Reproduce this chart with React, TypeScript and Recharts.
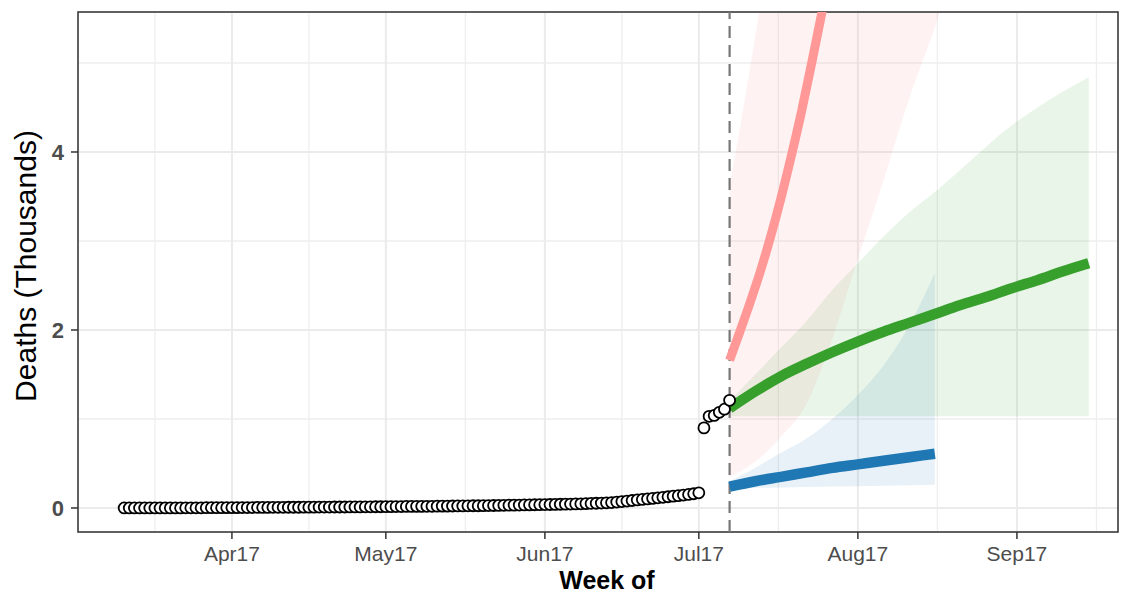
import {
  ComposedChart,
  Line,
  Area,
  Scatter,
  XAxis,
  YAxis,
  CartesianGrid,
  ReferenceLine,
  ReferenceArea,
} from "recharts";

// days counted from Apr 17
const obsDays = [
  -21, -20, -19, -18, -17, -16, -15, -14, -13, -12, -11, -10, -9, -8, -7, -6, -5, -4, -3, -2, -1,
  0, 1, 2, 3, 4, 5, 6, 7, 8, 9, 10, 11, 12, 13, 14, 15, 16, 17, 18, 19, 20, 21, 22, 23, 24, 25, 26, 27, 28, 29,
  30, 31, 32, 33, 34, 35, 36, 37, 38, 39, 40, 41, 42, 43, 44, 45, 46, 47, 48, 49, 50, 51, 52, 53, 54, 55, 56, 57, 58, 59,
  60, 61, 62, 63, 64, 65, 66, 67, 68, 69, 70, 71, 72, 73, 74, 75, 76, 77, 78, 79, 80, 81, 82, 83, 84, 85, 86, 87, 88, 89, 90, 91,
  92, 93, 94, 95, 96, 97,
];
const obsDeaths = [
  0, 0, 0, 0, 0, 0, 0, 0, 0.001, 0.001, 0.001, 0.001, 0.002, 0.002, 0.002, 0.002, 0.003, 0.003, 0.003, 0.003, 0.004,
  0.004, 0.004, 0.005, 0.005, 0.005, 0.006, 0.006, 0.006, 0.007, 0.007, 0.007, 0.008, 0.008, 0.008, 0.009, 0.009, 0.009, 0.01, 0.01, 0.01, 0.011, 0.011, 0.011, 0.012, 0.012, 0.012, 0.013, 0.013, 0.014, 0.014,
  0.015, 0.015, 0.016, 0.016, 0.017, 0.017, 0.018, 0.018, 0.019, 0.019, 0.02, 0.021, 0.021, 0.022, 0.023, 0.023, 0.024, 0.025, 0.025, 0.026, 0.027, 0.028, 0.029, 0.03, 0.031, 0.032, 0.033, 0.034, 0.035, 0.036,
  0.037, 0.038, 0.039, 0.04, 0.042, 0.043, 0.044, 0.046, 0.047, 0.049, 0.051, 0.053, 0.055, 0.058, 0.061, 0.066, 0.072, 0.078, 0.084, 0.09, 0.096, 0.102, 0.108, 0.114, 0.12, 0.126, 0.132, 0.138, 0.145, 0.152, 0.16, 0.17,
  0.9, 1.03, 1.04, 1.075, 1.11, 1.21,
];

// forecast grid (every 5 days from the cut-off)
const fcDays = [97, 102, 107, 112, 117, 122, 127, 132, 137, 142, 147, 152, 157, 162, 167];

const redLo = [0.35, 0.52, 0.8, 1.17, 1.9, 2.8, 3.68, 4.6, 5.4, 6.3];
const redHi = [3.6, 5.3, 7.2, 9.0, 11, 13, 15, 17, 19, 21];

const greenMid = [1.12, 1.31, 1.48, 1.62, 1.75, 1.87, 1.98, 2.08, 2.18, 2.28, 2.37, 2.47, 2.56, 2.66, 2.75];
const greenLo = [1.03, 1.03, 1.03, 1.03, 1.03, 1.03, 1.03, 1.03, 1.03, 1.03, 1.03, 1.03, 1.03, 1.03, 1.03];
const greenHi = [1.2, 1.5, 1.8, 2.1, 2.45, 2.75, 3.05, 3.32, 3.55, 3.8, 4.06, 4.3, 4.5, 4.68, 4.84];

const blueMid = [0.24, 0.3, 0.35, 0.4, 0.45, 0.49, 0.53, 0.57, 0.61];
const blueLo = [0.22, 0.225, 0.23, 0.235, 0.24, 0.245, 0.25, 0.255, 0.26];
const blueHi = [0.3, 0.45, 0.62, 0.78, 1.0, 1.27, 1.6, 2.05, 2.64];

// red median rises fast, read every 2 days
const redDays = [97, 99, 101, 103, 105, 107, 109, 111, 113, 115, 117, 119];
const redMid = [1.66, 1.98, 2.31, 2.66, 3.05, 3.48, 3.95, 4.45, 5.0, 5.57, 6.15, 6.8];

const xTicks = [0, 30, 61, 91, 122, 153];
const xTickLabels = ["Apr17", "May17", "Jun17", "Jul17", "Aug17", "Sep17"];
const xMinor = [-15, 15, 45.5, 76, 106.5, 137.5, 168.5];
const yTicks = [0, 2, 4];
const yMinor = [1, 3, 5];
const cutoffDay = 97;

const X_MIN = -30;
const X_MAX = 172.7;
const Y_MIN = -0.27;
const Y_MAX = 5.573;

const observed = obsDays.map((d, i) => ({ day: d, deaths: obsDeaths[i] }));
const redLine = redDays.map((d, i) => ({ day: d, red: redMid[i] }));

const forecast = fcDays.map((d, i) => ({
  day: d,
  redBand: redLo[i] !== undefined ? [redLo[i], redHi[i]] : undefined,
  green: greenMid[i],
  greenBand: [greenLo[i], greenHi[i]],
  blue: blueMid[i],
  blueBand: blueLo[i] !== undefined ? [blueLo[i], blueHi[i]] : undefined,
}));

const FONT = "'Liberation Sans', Arial, Helvetica, sans-serif";

const Dot = (p: any) => (
  <circle cx={p.cx} cy={p.cy} r={5.5} fill="#fff" stroke="#000" strokeWidth={1.8} />
);

export default function App() {
  return (
    <div style={{ position: "absolute", left: 0, top: 0, background: "#fff" }}>
      <ComposedChart
        width={1131}
        height={596}
        data={forecast}
        margin={{ top: 12, right: 13, bottom: 0, left: 0 }}
        style={{ fontFamily: FONT }}
      >
        <CartesianGrid
          stroke="#EEEEEE"
          strokeWidth={1.3}
          horizontalValues={yMinor}
          verticalValues={xMinor}
        />
        <CartesianGrid stroke="#EBEBEB" strokeWidth={2} />
        <XAxis
          dataKey="day"
          type="number"
          domain={[X_MIN, X_MAX]}
          ticks={xTicks}
          allowDataOverflow
          tickFormatter={(v) => xTickLabels[xTicks.indexOf(v)] ?? ""}
          height={64}
          axisLine={false}
          tickLine={{ stroke: "#333333", strokeWidth: 1.5 }}
          tickSize={7}
          tickMargin={7}
          tick={{ fontSize: 21, fill: "#4D4D4D", fontFamily: FONT }}
          label={{
            value: "Week of",
            position: "center",
            dx: 9,
            dy: 16,
            fontSize: 25,
            fontWeight: "bold",
            fill: "#000",
            fontFamily: FONT,
          }}
        />
        <YAxis
          type="number"
          domain={[Y_MIN, Y_MAX]}
          ticks={yTicks}
          allowDataOverflow
          width={78}
          axisLine={false}
          tickLine={{ stroke: "#333333", strokeWidth: 1.5 }}
          tickSize={7}
          tickMargin={7}
          tick={{ fontSize: 22, fontWeight: "bold", fill: "#4D4D4D", fontFamily: FONT }}
          label={{
            value: "Deaths (Thousands)",
            angle: -90,
            position: "center",
            dx: -14,
            dy: -6,
            fontSize: 30,
            fill: "#000",
            fontFamily: FONT,
          }}
        />
        <Area
          dataKey="redBand"
          type="monotone"
          stroke="none"
          fill="#FF9896"
          fillOpacity={0.12}
          isAnimationActive={false}
        />
        <Area
          dataKey="greenBand"
          type="monotone"
          stroke="none"
          fill="#2CA02C"
          fillOpacity={0.1}
          isAnimationActive={false}
        />
        <Area
          dataKey="blueBand"
          type="monotone"
          stroke="none"
          fill="#1F77B4"
          fillOpacity={0.1}
          isAnimationActive={false}
        />
        <ReferenceLine
          x={cutoffDay}
          stroke="#777777"
          strokeWidth={2.2}
          strokeDasharray="12 7"
        />
        <Line
          data={redLine}
          dataKey="red"
          type="monotone"
          stroke="#FF9896"
          strokeWidth={9}
          dot={false}
          isAnimationActive={false}
        />
        <Line
          dataKey="green"
          type="monotone"
          stroke="#37A02D"
          strokeWidth={10.5}
          dot={false}
          isAnimationActive={false}
        />
        <Line
          dataKey="blue"
          type="monotone"
          stroke="#1F77B4"
          strokeWidth={10.5}
          dot={false}
          isAnimationActive={false}
        />
        <Scatter
          data={observed}
          dataKey="deaths"
          shape={Dot}
          isAnimationActive={false}
        />
        <ReferenceArea
          x1={X_MIN}
          x2={X_MAX}
          y1={Y_MIN}
          y2={Y_MAX}
          fill="none"
          stroke="#333333"
          strokeWidth={1.5}
        />
      </ComposedChart>
    </div>
  );
}
